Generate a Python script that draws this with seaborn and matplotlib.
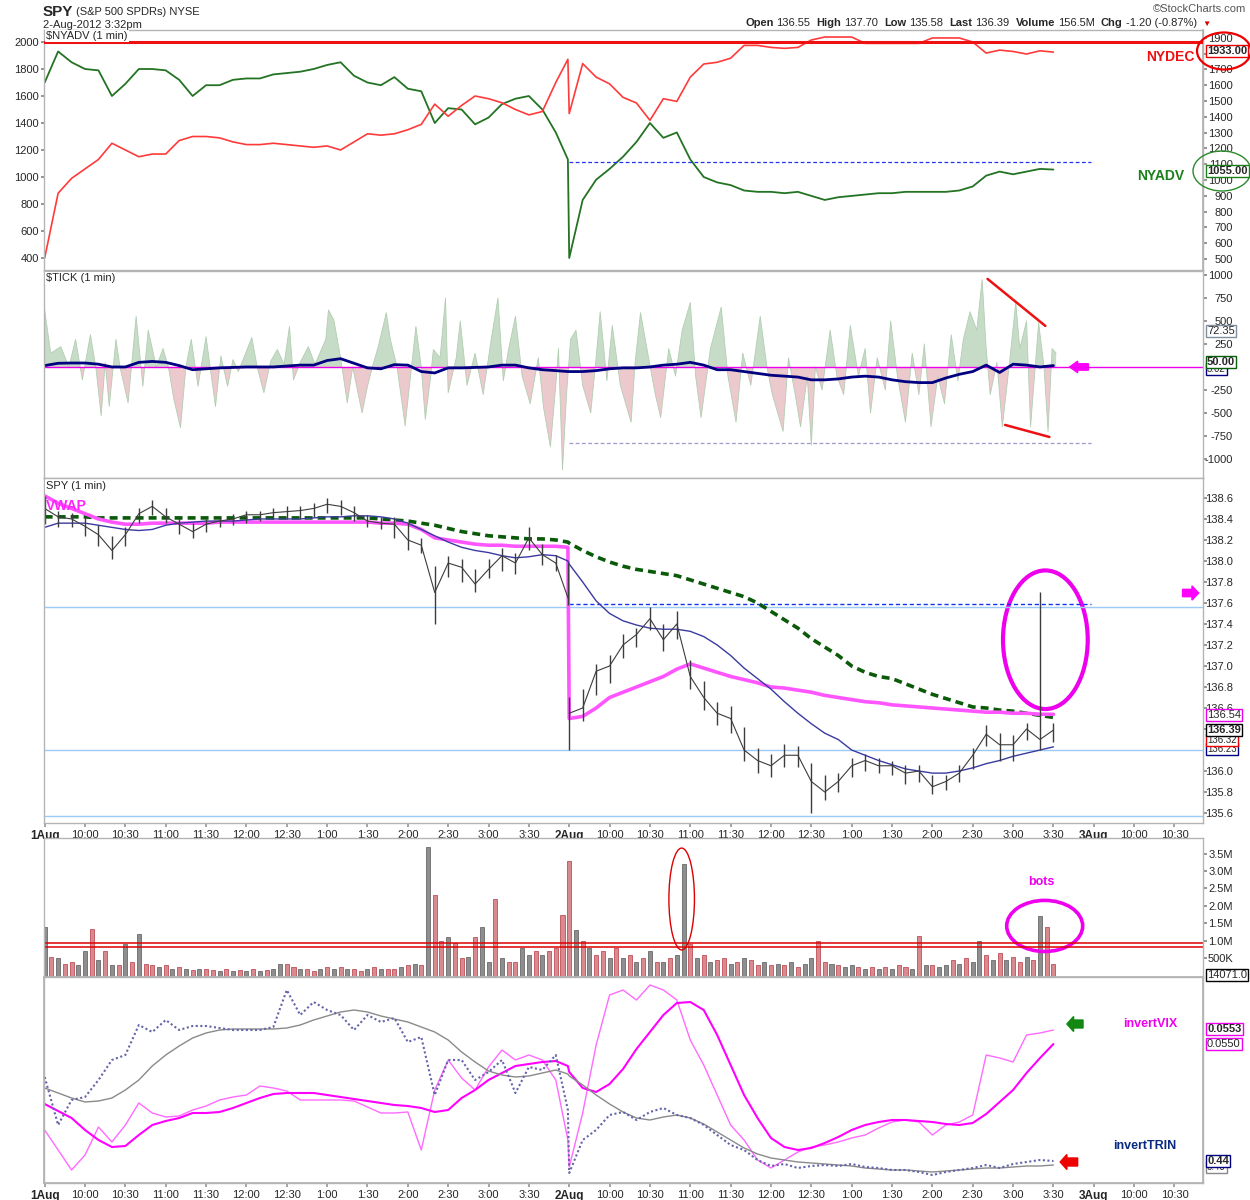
import matplotlib
matplotlib.use("Agg")
import matplotlib.pyplot as plt
import seaborn as sns
import numpy as np
from matplotlib.patches import Ellipse, FancyArrow

sns.set_theme(style="white")
plt.rcParams['font.family'] = ['Liberation Sans', 'DejaVu Sans']

# ---------------- data (minutes from 1-Aug 9:30; 2-Aug opens at 390) ----------------
T = list(range(0, 390, 10)) + [389] + list(range(390, 760, 10))

nyadv = [1700, 1930, 1850, 1800, 1790, 1600, 1690, 1800, 1800, 1790,
         1720, 1600, 1680, 1680, 1720, 1730, 1730, 1760, 1770, 1780,
         1800, 1830, 1850, 1750, 1700, 1680, 1740, 1654, 1635, 1400,
         1510, 1500, 1390, 1440, 1540, 1580, 1600, 1500, 1330, 1130,
         400,
         830, 980, 1060, 1150, 1260, 1400, 1290, 1330, 1130, 1000,
         960, 940, 900, 890, 890, 880, 890, 860, 830, 850,
         860, 870, 880, 880, 890, 890, 890, 890, 900, 930,
         1010, 1040, 1020, 1040, 1060, 1055]

nydec = [400, 880, 990, 1060, 1130, 1250, 1200, 1150, 1170, 1170,
         1270, 1300, 1300, 1290, 1260, 1240, 1240, 1250, 1240, 1230,
         1220, 1230, 1200, 1260, 1320, 1310, 1320, 1350, 1390, 1540,
         1450, 1530, 1600, 1580, 1550, 1500, 1460, 1485, 1700, 1872,
         1470,
         1840, 1740, 1690, 1590, 1548, 1420, 1580, 1560, 1740, 1837,
         1850, 1880, 1975, 1975, 1960, 1953, 1960, 2015, 2037, 2037,
         2037, 1990, 1990, 1990, 1990, 1990, 2030, 2030, 2030, 2000,
         1918, 1940, 1930, 1911, 1935, 1925]

tick_min = [0, 4.5, 12, 18, 23, 28, 34, 38, 42, 45,
            48, 53, 56, 62, 68, 73, 77, 83, 88, 92,
            96, 101, 105, 109, 114, 120, 123, 127, 131, 136,
            140, 144, 154, 158, 163, 168, 173, 178, 182, 185,
            190, 196, 201, 209, 211, 215, 220, 225, 229, 236,
            240, 244, 248, 254, 257, 262, 268, 272, 276, 280,
            283, 287, 289, 294, 298, 300, 306, 309, 314, 320,
            326, 332, 337, 341, 345, 350, 355, 361, 367, 371,
            376, 380, 382, 385, 388, 391, 395, 400, 406, 410,
            413, 418, 422, 428, 436, 439, 443, 449, 454, 458,
            464, 469, 474, 480, 484, 488, 495, 503, 508, 514,
            519, 525, 532, 537, 541, 549, 553, 558, 562, 567,
            570, 573, 578, 584, 589, 594, 599, 605, 610, 614,
            619, 625, 629, 634, 640, 645, 650, 654, 659, 664,
            669, 674, 679, 683, 688, 693, 697, 700, 703, 708,
            712, 717, 722, 725, 730, 733, 737, 739, 743, 746,
            749, 752]
tick_val = [620, 150, 220, 0, 300, -140, 350, 0, -530, 50,
            -430, 300, 0, -390, 550, -210, 400, 0, 200, 0,
            -350, -660, 0, 300, -210, 330, 0, -430, 120, -210,
            80, -50, 320, 0, -280, 60, 190, 30, 440, -140,
            50, 220, 30, 300, 620, 510, 100, -390, 0, -500,
            -210, 20, 220, 590, 300, 0, -640, -100, 440, 0,
            -570, -100, 190, 100, 750, -280, 100, 500, -200, 150,
            -300, 300, 750, -150, 200, 550, -100, -400, 100, -450,
            -870, -200, 200, -1120, -300, 300, 400, -200, -500, 100,
            600, -150, 450, -200, -600, 50, 590, 100, -300, -550,
            200, -100, 400, 700, -100, -550, 200, 650, -100, -600,
            150, -200, 550, 0, -300, -700, 100, -300, -650, -100,
            -850, 0, -250, 400, -100, -300, 450, -100, 200, -500,
            100, -250, 500, -100, -600, 150, -300, 250, -650, -100,
            -400, 350, -150, 300, 600, 400, 950, 200, -300, 50,
            -650, 0, 700, 200, 500, -650, 100, 480, 0, -700,
            200, 150]

tick_ma = [15, 40, 43, 43, 30, 0, 0, 50, 60, 50,
           15, -30, -20, -10, -5, 0, 0, 0, 10, 20,
           20, 70, 90, 40, -10, -20, 25, 20, -50, -65,
           -10, -10, -5, 0, 20, 20, -10, -30, -40, -50,
           -50,
           -50, -40, -20, -10, -10, 0, 20, 30, 50, 20,
           -30, -30, -50, -70, -90, -100, -110, -140, -140, -130,
           -110, -100, -110, -140, -160, -170, -170, -120, -80, -50,
           20, -60, 30, 20, 0, 15]

spy_close = [138.50, 138.42, 138.40, 138.33, 138.25, 138.10, 138.25, 138.45, 138.52, 138.42,
             138.35, 138.28, 138.35, 138.38, 138.40, 138.44, 138.44, 138.46, 138.47, 138.48,
             138.50, 138.54, 138.52, 138.46, 138.38, 138.36, 138.35, 138.20, 138.15, 137.70,
             137.98, 137.94, 137.78, 137.92, 138.05, 137.98, 138.22, 138.06, 137.98, 137.65,
             136.55,
             136.60, 136.95, 137.00, 137.20, 137.30, 137.45, 137.25, 137.40, 136.90, 136.70,
             136.55, 136.50, 136.20, 136.10, 136.05, 136.15, 136.15, 135.90, 135.80, 135.90,
             136.05, 136.10, 136.05, 136.05, 135.98, 136.00, 135.85, 135.90, 135.98, 136.15,
             136.35, 136.25, 136.25, 136.40, 136.30, 136.39]
spy_high = [138.62, 138.48, 138.46, 138.42, 138.34, 138.24, 138.32, 138.50, 138.58, 138.50,
            138.42, 138.36, 138.40, 138.42, 138.45, 138.48, 138.48, 138.50, 138.52, 138.52,
            138.55, 138.60, 138.58, 138.52, 138.44, 138.42, 138.42, 138.36, 138.22, 137.95,
            138.05, 138.02, 137.92, 138.02, 138.12, 138.08, 138.32, 138.16, 138.06, 137.98,
            136.70,
            136.78, 137.02, 137.10, 137.30, 137.36, 137.56, 137.40, 137.52, 137.06, 136.86,
            136.66, 136.62, 136.42, 136.22, 136.16, 136.26, 136.24, 136.08, 135.96, 135.98,
            136.12, 136.16, 136.12, 136.10, 136.06, 136.06, 135.96, 135.96, 136.06, 136.22,
            136.44, 136.36, 136.34, 136.46, 137.70, 136.46]
spy_low = [138.35, 138.32, 138.32, 138.24, 138.14, 138.02, 138.14, 138.36, 138.44, 138.36,
           138.26, 138.22, 138.28, 138.32, 138.34, 138.36, 138.38, 138.40, 138.40, 138.40,
           138.42, 138.46, 138.44, 138.38, 138.32, 138.30, 138.22, 138.10, 138.08, 137.40,
           137.85, 137.80, 137.70, 137.84, 137.90, 137.88, 138.10, 137.96, 137.90, 137.58,
           136.20,
           136.48, 136.72, 136.84, 137.08, 137.18, 137.34, 137.14, 137.26, 136.78, 136.58,
           136.44, 136.36, 136.10, 135.98, 135.94, 136.04, 136.04, 135.60, 135.72, 135.80,
           135.94, 136.00, 135.98, 135.96, 135.88, 135.90, 135.78, 135.82, 135.90, 136.02,
           136.24, 136.10, 136.10, 136.30, 136.20, 136.28]

vwap = [138.62, 138.55, 138.50, 138.45, 138.40, 138.37, 138.35, 138.35, 138.36, 138.36,
        138.36, 138.36, 138.36, 138.37, 138.37, 138.37, 138.37, 138.37, 138.37, 138.37,
        138.37, 138.37, 138.37, 138.37, 138.37, 138.36, 138.36, 138.35, 138.30, 138.22,
        138.20, 138.18, 138.16, 138.15, 138.15, 138.14, 138.14, 138.14, 138.14, 138.13,
        136.50,
        136.52, 136.60, 136.70, 136.75, 136.80, 136.85, 136.90, 136.97, 137.02, 136.98,
        136.94, 136.90, 136.87, 136.84, 136.80, 136.79, 136.77, 136.75, 136.72, 136.70,
        136.68, 136.66, 136.65, 136.63, 136.62, 136.61, 136.60, 136.59, 136.58, 136.57,
        136.56, 136.56, 136.55, 136.55, 136.54, 136.54]

ma_long = [138.42, 138.42, 138.42, 138.42, 138.41, 138.41, 138.41, 138.41, 138.41, 138.41,
           138.41, 138.41, 138.41, 138.41, 138.41, 138.41, 138.41, 138.41, 138.41, 138.41,
           138.41, 138.41, 138.41, 138.41, 138.41, 138.40, 138.39, 138.38, 138.36, 138.34,
           138.31, 138.28, 138.26, 138.24, 138.23, 138.22, 138.21, 138.21, 138.20, 138.18,
           138.17,
           138.10, 138.04, 137.99, 137.95, 137.92, 137.90, 137.88, 137.86, 137.82, 137.78,
           137.74, 137.70, 137.66, 137.60, 137.52, 137.44, 137.36, 137.26, 137.18, 137.10,
           137.00, 136.94, 136.90, 136.88, 136.83, 136.78, 136.73, 136.69, 136.65, 136.61,
           136.60, 136.58, 136.57, 136.55, 136.53, 136.51]

ma_short = [138.32, 138.36, 138.36, 138.36, 138.34, 138.32, 138.30, 138.29, 138.30, 138.34,
            138.36, 138.37, 138.38, 138.38, 138.38, 138.39, 138.40, 138.40, 138.40, 138.40,
            138.41, 138.42, 138.42, 138.43, 138.43, 138.42, 138.40, 138.36, 138.30, 138.24,
            138.18, 138.13, 138.10, 138.08, 138.05, 138.03, 138.04, 138.06, 138.05, 138.00,
            137.97,
            137.80, 137.62, 137.50, 137.43, 137.39, 137.36, 137.35, 137.35, 137.33, 137.28,
            137.20, 137.10, 136.98, 136.88, 136.78, 136.66, 136.55, 136.45, 136.36, 136.30,
            136.20, 136.15, 136.10, 136.06, 136.02, 136.00, 135.98, 135.98, 136.00, 136.03,
            136.07, 136.10, 136.14, 136.17, 136.20, 136.23]

VT = list(range(0, 755, 5))
volume_m = [1.4, 0.55, 0.5, 0.35, 0.4, 0.3, 0.7, 1.35, 0.45, 0.7,
            0.3, 0.3, 0.9, 0.4, 1.2, 0.35, 0.3, 0.25, 0.3, 0.2,
            0.25, 0.2, 0.18, 0.2, 0.2, 0.18, 0.15, 0.2, 0.15, 0.18,
            0.15, 0.2, 0.15, 0.18, 0.2, 0.35, 0.35, 0.25, 0.2, 0.2,
            0.15, 0.2, 0.25, 0.2, 0.25, 0.2, 0.2, 0.15, 0.2, 0.25,
            0.2, 0.2, 0.2, 0.25, 0.3, 0.35, 0.3, 3.7, 2.3, 1.0,
            1.1, 0.95, 0.5, 0.55, 1.1, 1.4, 0.4, 2.2, 0.5, 0.4,
            0.4, 0.8, 0.6, 0.7, 0.6, 0.7, 0.8, 1.75, 3.3, 1.3,
            1.0, 0.8, 0.6, 0.7, 0.5, 0.8, 0.5, 0.6, 0.4, 0.5,
            0.7, 0.4, 0.4, 0.5, 0.6, 3.2, 0.9, 0.5, 0.6, 0.4,
            0.45, 0.5, 0.35, 0.4, 0.5, 0.45, 0.3, 0.4, 0.3, 0.35,
            0.3, 0.4, 0.25, 0.35, 0.5, 1.0, 0.4, 0.35, 0.3, 0.25,
            0.3, 0.25, 0.2, 0.25, 0.2, 0.25, 0.2, 0.3, 0.25, 0.2,
            1.15, 0.3, 0.3, 0.25, 0.3, 0.45, 0.35, 0.5, 0.4, 1.0,
            0.6, 0.45, 0.65, 0.45, 0.55, 0.4, 0.55, 0.45, 1.7, 1.4,
            0.35]
volume_dir = ("grgrrggrgr" "grgrgrrgrg" "rgrgrrgrgr" "grgrggrrgr" "rgrgrgrrgr"
              "grrgrgrgrr" "grrgrggrgr" "rggrgrrrrg" "rgrrgrgrgr" "grgrggrgrg"
              "rrgrgrrgrg" "rgrggrrgrg" "grgrgrgrrg" "rgrggrgrgg" "rgrgrrgrgr" "r")

invert_vix = [.05328, .05288, .05248, .05278, .05334, .05304, .05338, .05382, .05362, .05354,
              .05356, .05368, .05376, .05388, .05394, .05398, .05416, .05412, .05406, .05388,
              .05388, .05388, .05388, .05386, .05374, .05362, .05362, .05364, .05288, .05408,
              .05468, .05432, .05408, .05454, .05488, .05468, .05478, .05468, .05428, .05308,
              .05254,
              .05362, .05498, .05598, .05608, .05588, .05618, .05608, .05588, .05508, .05458,
              .05398, .05338, .05308, .05268, .05252, .05268, .05284, .05294, .05298, .05304,
              .05312, .05318, .05332, .05344, .05348, .05344, .05318, .05338, .05344, .05358,
              .05478, .05472, .05464, .05518, .05522, .05528]
invert_vix_ma = [.05380, .05366, .05352, .05328, .05308, .05294, .05296, .05318, .05338, .05346,
                 .05352, .05362, .05362, .05364, .05372, .05382, .05392, .05400, .05402, .05402,
                 .05402, .05398, .05394, .05390, .05386, .05382, .05378, .05376, .05372, .05364,
                 .05368, .05392, .05408, .05428, .05442, .05456, .05460, .05464, .05466, .05456,
                 .05444,
                 .05412, .05404, .05420, .05450, .05490, .05524, .05558, .05582, .05584, .05568,
                 .05518, .05458, .05398, .05352, .05312, .05294, .05288, .05292, .05302, .05314,
                 .05328, .05338, .05344, .05348, .05348, .05346, .05344, .05340, .05338, .05342,
                 .05360, .05384, .05408, .05442, .05472, .05500]
invert_trin = [1.28, 0.80, 1.05, 1.08, 1.25, 1.45, 1.50, 1.80, 1.73, 1.85,
               1.75, 1.79, 1.79, 1.77, 1.75, 1.75, 1.75, 1.78, 2.15, 1.90,
               2.03, 1.95, 1.90, 1.75, 1.90, 1.83, 1.87, 1.63, 1.68, 1.10,
               1.45, 1.45, 1.25, 1.33, 1.45, 1.12, 1.38, 1.35, 1.50, 0.95,
               0.32,
               0.65, 0.75, 0.90, 0.93, 0.85, 0.93, 0.97, 0.90, 0.87, 0.80,
               0.70, 0.60, 0.55, 0.45, 0.39, 0.41, 0.37, 0.39, 0.40, 0.39,
               0.41, 0.38, 0.37, 0.35, 0.35, 0.33, 0.30, 0.33, 0.35, 0.37,
               0.40, 0.37, 0.41, 0.43, 0.45, 0.44]
invert_trin_ma = [1.17, 1.12, 1.07, 1.03, 1.04, 1.07, 1.15, 1.25, 1.39, 1.50,
                  1.59, 1.67, 1.72, 1.75, 1.76, 1.76, 1.76, 1.76, 1.77, 1.80,
                  1.85, 1.89, 1.93, 1.95, 1.93, 1.89, 1.86, 1.83, 1.78, 1.73,
                  1.65, 1.53, 1.43, 1.34, 1.30, 1.28, 1.29, 1.32, 1.35, 1.31,
                  1.29,
                  1.20, 1.10, 1.01, 0.93, 0.87, 0.85, 0.88, 0.90, 0.87, 0.81,
                  0.73, 0.65, 0.57, 0.51, 0.47, 0.45, 0.43, 0.42, 0.41, 0.40,
                  0.39, 0.37, 0.36, 0.35, 0.35, 0.34, 0.33, 0.34, 0.35, 0.36,
                  0.37, 0.37, 0.38, 0.39, 0.39, 0.40]

xtick_pos = list(range(0, 841, 30))
xtick_labels = ["1Aug", "10:00", "10:30", "11:00", "11:30", "12:00", "12:30", "1:00", "1:30",
                "2:00", "2:30", "3:00", "3:30", "2Aug", "10:00", "10:30", "11:00", "11:30",
                "12:00", "12:30", "1:00", "1:30", "2:00", "2:30", "3:00", "3:30", "3Aug",
                "10:00", "10:30"]

header_items = [("Open", True), ("136.55", False), ("High", True), ("137.70", False),
                ("Low", True), ("135.58", False), ("Last", True), ("136.39", False),
                ("Volume", True), ("156.5M", False), ("Chg", True), ("-1.20 (-0.87%)", False)]

# ---------------- layout ----------------
W, H = 1250, 1200
fig = plt.figure(figsize=(W / 100, H / 100), dpi=100)
fig.patch.set_facecolor("white")
PL, PR = 44, 1203
XMIN, XMAX = -0.5, 861.2
SPINE = "#b4b4b4"
FS = 8


def fx(x):
    return x / W


def fy(y):
    return 1 - y / H


def panel(top, bottom):
    ax = fig.add_axes([PL / W, 1 - bottom / H, (PR - PL) / W, (bottom - top) / H])
    ax.set_facecolor("white")
    for s in ax.spines.values():
        s.set_color(SPINE)
        s.set_linewidth(1)
    ax.grid(False)
    return ax


def line(ax, x, y, **kw):
    sns.lineplot(x=x, y=y, ax=ax, estimator=None, sort=False, legend=False, **kw)


def right_ticks(ax, ticks, labels):
    ax.yaxis.tick_right()
    ax.set_yticks(ticks)
    ax.set_yticklabels(labels)
    ax.tick_params(axis="y", which="both", right=True, left=False, length=3,
                   color="#888888", labelsize=FS, pad=18.5, direction="out")
    for lb in ax.get_yticklabels():
        lb.set_horizontalalignment("right")


def xaxis_labels(ax, show):
    ax.set_xticks(xtick_pos)
    if show:
        ax.set_xticklabels(xtick_labels)
        ax.tick_params(axis="x", bottom=True, length=3, color="#999999", labelsize=FS, pad=2)
        for lb in ax.get_xticklabels():
            if lb.get_text().endswith("Aug"):
                lb.set_fontweight("bold")
                lb.set_fontsize(8.5)
    else:
        ax.set_xticklabels([])
        ax.tick_params(axis="x", bottom=False, length=0)


Tn = np.array(T)

# ---------------- panel 1: NYADV / NYDEC ----------------
ax1 = panel(30, 270)
line(ax1, T, nyadv, color="#237323", linewidth=1.3)
line(ax1, T, nydec, color="#ff3a3a", linewidth=1.2)
ax1.axhline(2000, color="#ee1111", linewidth=2.2, zorder=5)
ax1.hlines(1111, 390, 778, colors="#2233ee", linestyles=(0, (3, 2)), linewidth=0.9)
ax1.set_xlim(XMIN, XMAX)
ax1.set_ylim(311, 2089)
ax1.set_yticks(list(range(400, 2001, 200)))
ax1.tick_params(axis="y", left=True, length=2, color="#888888", labelsize=FS, pad=1.5)
xaxis_labels(ax1, False)
sec = ax1.secondary_yaxis("right", functions=(lambda v: 164.6 + 0.8544 * v,
                                              lambda r: (r - 164.6) / 0.8544))
sec_ticks = list(range(500, 2000, 100))
sec.set_yticks(sec_ticks)
sec.set_yticklabels(["" if v == 1800 else str(v) for v in sec_ticks])
sec.tick_params(length=3, color="#888888", labelsize=FS, pad=18.5)
for lb in sec.get_yticklabels():
    lb.set_horizontalalignment("right")
sec.spines["right"].set_color(SPINE)

# ---------------- panel 2: TICK ----------------
ax2 = panel(271, 478)
tm, tv = np.array(tick_min), np.array(tick_val)
ax2.fill_between(tm, tv, 0, where=tv >= 0, interpolate=True, color="#c6dcc6", linewidth=0)
ax2.fill_between(tm, tv, 0, where=tv <= 0, interpolate=True, color="#ecc9cd", linewidth=0)
line(ax2, tm, tv, color="#b3cdb3", linewidth=0.6)
ax2.axhline(0, color="#ee00ee", linewidth=1)
ax2.hlines(-826, 390, 778, colors="#9a9ac8", linestyles=(0, (3, 2)), linewidth=0.9)
line(ax2, T, tick_ma, color="#000080", linewidth=2)
ax2.plot([701, 744], [957, 446], color="#ee1111", linewidth=1.8)
ax2.plot([714, 747], [-630, -761], color="#ee1111", linewidth=1.8)
ax2.add_patch(FancyArrow(776, 0, -14, 0, width=70, head_width=125, head_length=6,
                         length_includes_head=True, color="#ff00ff", clip_on=False))
ax2.set_xlim(XMIN, XMAX)
ax2.set_ylim(-1207, 1043)
right_ticks(ax2, [1000, 750, 500, 250, -250, -500, -750, -1000],
            ["1000", "750", "500", "250", "-250", "-500", "-750", "-1000"])
xaxis_labels(ax2, False)

# ---------------- panel 3: SPY ----------------
ax3 = panel(478, 823)
for lvl in (137.56, 136.20, 135.57):
    ax3.axhline(lvl, color="#9ccaf2", linewidth=1)
ax3.hlines(137.59, 390, 778, colors="#1133ee", linestyles=(0, (3, 2)), linewidth=1)
line(ax3, T, ma_long, color="#0a5a0a", linewidth=2.6, linestyle=(0, (2.2, 1.4)))
line(ax3, T, vwap, color="#ff55ff", linewidth=2.6)
line(ax3, T, ma_short, color="#3a3aa0", linewidth=1)
ax3.vlines(Tn, spy_low, spy_high, colors="#3c3c3c", linewidth=1.0)
line(ax3, T[:40], spy_close[:40], color="#3c3c3c", linewidth=0.8)
line(ax3, T[40:], spy_close[40:], color="#3c3c3c", linewidth=0.8)
ax3.add_patch(Ellipse((744, 137.25), 63, 1.32, fill=False, edgecolor="#ee00ee", linewidth=3))
ax3.add_patch(FancyArrow(846, 137.695, 12, 0, width=0.07, head_width=0.135, head_length=5,
                         length_includes_head=True, color="#ff00ff", clip_on=False))
ax3.set_xlim(XMIN, XMAX)
ax3.set_ylim(135.505, 138.79)
yt3 = [135.6, 135.8, 136.0, 136.4, 136.6, 136.8, 137.0, 137.2, 137.4, 137.6,
       137.8, 138.0, 138.2, 138.4, 138.6]
right_ticks(ax3, yt3, ["%.1f" % v for v in yt3])
xaxis_labels(ax3, True)

# ---------------- panel 4: volume ----------------
ax4 = panel(838, 977)
fills = ["#d98a8f" if c == "r" else "#8e8e8e" for c in volume_dir]
edges = ["#c0505a" if c == "r" else "#6a6a6a" for c in volume_dir]
ax4.bar(VT, volume_m, width=3.0, color=fills, edgecolor=edges, linewidth=0.6)
ax4.axhline(0.94, color="#dd0000", linewidth=1.1)
ax4.axhline(0.83, color="#dd0000", linewidth=1.1)
ax4.add_patch(Ellipse((743.5, 1.43), 56.5, 1.46, fill=False, edgecolor="#ee00ee", linewidth=2.6))
ax4.add_patch(Ellipse((473.6, 2.2), 19, 2.91, fill=False, edgecolor="#dd0000", linewidth=1))
ax4.set_xlim(XMIN, XMAX)
ax4.set_ylim(-0.029, 3.943)
right_ticks(ax4, [0.5, 1.0, 1.5, 2.0, 2.5, 3.0, 3.5],
            ["500K", "1.0M", "1.5M", "2.0M", "2.5M", "3.0M", "3.5M"])
xaxis_labels(ax4, False)

# ---------------- panel 5: invertVIX / invertTRIN ----------------
ax5 = panel(977, 1183)
line(ax5, T, invert_vix, color="#ff6aff", linewidth=1)
line(ax5, T, invert_vix_ma, color="#ff00ff", linewidth=1.5)
ax5.add_patch(FancyArrow(772, 0.0554, -12, 0, width=0.00016, head_width=0.0003, head_length=5,
                         length_includes_head=True, color="#118811", clip_on=False))
ax5.set_xlim(XMIN, XMAX)
ax5.set_ylim(0.05222, 0.05634)
ax5.set_yticks([])
xaxis_labels(ax5, True)
ax5b = ax5.twinx()
for s in ax5b.spines.values():
    s.set_color(SPINE)
line(ax5b, T, invert_trin_ma, color="#8a8a8a", linewidth=1)
line(ax5b, T, invert_trin, color="#6464aa", linewidth=1.5, linestyle=(0, (1, 1.2)))
ax5b.add_patch(FancyArrow(768, 0.43, -13, 0, width=0.08, head_width=0.15, head_length=5,
                          length_includes_head=True, color="#ee0000", clip_on=False))
ax5b.set_xlim(XMIN, XMAX)
ax5b.set_ylim(0.22, 2.28)
ax5b.set_yticks([])

for ax in (ax1, ax2, ax3, ax4, ax5, ax5b):
    ax.set_xlabel("")
    ax.set_ylabel("")

# ---------------- header ----------------
renderer = fig.canvas.get_renderer()
t_spy = fig.text(fx(43), fy(12), "SPY", fontsize=11, fontweight="bold", va="center")
x_end = t_spy.get_window_extent(renderer).x1
fig.text((x_end + 3) / W, fy(12), "(S&P 500 SPDRs) NYSE", fontsize=FS, va="center")
fig.text(fx(43), fy(25), "2-Aug-2012 3:32pm", fontsize=FS, va="center")
fig.text(fx(1246), fy(9), "\u00a9StockCharts.com", fontsize=FS, va="center", ha="right", color="#555555")
xcur = 745
for txt, bold in header_items:
    t = fig.text(fx(xcur), fy(23), txt, fontsize=FS, fontweight="bold" if bold else "normal", va="center")
    xcur = t.get_window_extent(renderer).x1 + (3 if bold else 6)
fig.text(fx(xcur), fy(24), "\u25bc", fontsize=6, color="#dd0000", va="center")


def plabel(x, y, s, **kw):
    fig.text(fx(x), fy(y), s, fontsize=FS, va="center",
             bbox=dict(boxstyle="square,pad=0.1", fc="white", ec="none"), zorder=20, **kw)


plabel(46, 36, "\\$NYADV (1 min)")
plabel(46, 278, "\\$TICK (1 min)")
plabel(46, 486, "SPY (1 min)")
fig.text(fx(46), fy(506), "VWAP", fontsize=10, fontweight="bold", color="#ff22ff", va="center")

fig.text(fx(1170), fy(57), "NYDEC", fontsize=10, fontweight="bold", color="#ee1111", va="center", ha="center")
fig.text(fx(1161), fy(176), "NYADV", fontsize=10, fontweight="bold", color="#1a801a", va="center", ha="center")
fig.text(fx(1041), fy(882), "bots", fontsize=9, fontweight="bold", color="#ee00ee", va="center", ha="center")
fig.text(fx(1150), fy(1024), "invertVIX", fontsize=9, fontweight="bold", color="#ee00ee", va="center", ha="center")
fig.text(fx(1145), fy(1146), "invertTRIN", fontsize=9, fontweight="bold", color="#0a2a80", va="center", ha="center")


def tag(y, s, ec, bold=False, fs=FS):
    fig.text(fx(1207), fy(y), s, fontsize=fs, ha="left", va="center",
             fontweight="bold" if bold else "normal",
             bbox=dict(boxstyle="square,pad=0.12", fc="white", ec=ec, lw=1), zorder=30)


tag(51, "1933.00", "#ee0000", True)
tag(171, "1055.00", "#1a801a", True)
tag(331, "72.35", "#8090a0")
tag(369, "3.02", "#000080", fs=7)
tag(362, "50.00", "#0a600a", True)
tag(715, "136.54", "#ee00ee")
tag(749, "136.23", "#000080", fs=7)
tag(740, "136.32", "#ee0000", fs=7)
tag(730, "136.39", "#000000", True)
tag(975, "14071.0", "#000000")
tag(1029, "0.0553", "#ee00ee", True)
tag(1044, "0.0550", "#ee00ee")
tag(1167, "0.40", "#888888", fs=7)
tag(1161, "0.44", "#000080", True)

fig.add_artist(Ellipse((fx(1224), fy(51)), 54 / W, 37 / H, transform=fig.transFigure,
                       fill=False, edgecolor="#ee0000", linewidth=1.6, zorder=40))
fig.add_artist(Ellipse((fx(1222), fy(171)), 58 / W, 40 / H, transform=fig.transFigure,
                       fill=False, edgecolor="#2a8a2a", linewidth=1, zorder=40))

fig.savefig("out.png", dpi=100, facecolor="white")
